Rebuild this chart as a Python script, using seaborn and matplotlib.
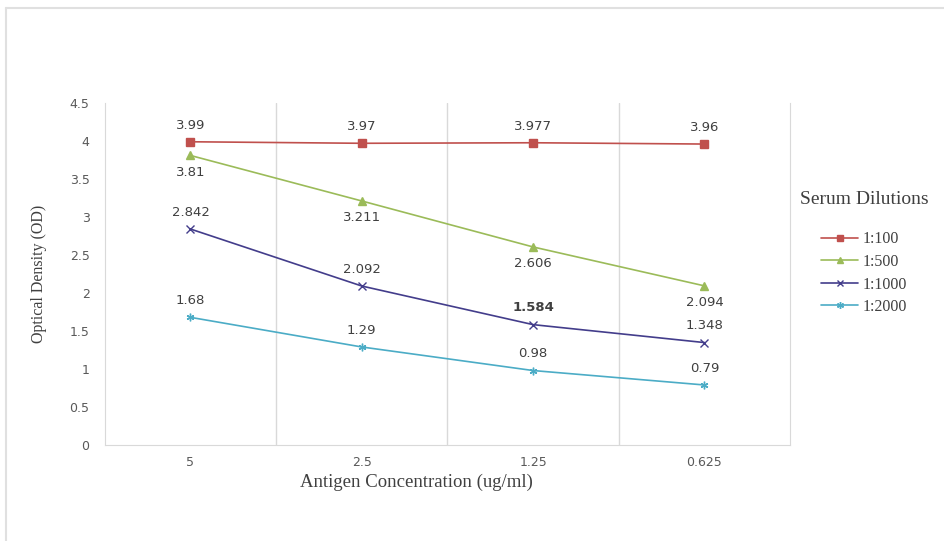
import matplotlib
matplotlib.use("Agg")
import matplotlib.pyplot as plt
import seaborn as sns
import pandas as pd
from matplotlib.lines import Line2D

concentrations = ["5", "2.5", "1.25", "0.625"]
dilutions = ["1:100", "1:500", "1:1000", "1:2000"]
od_1_100 = [3.99, 3.97, 3.977, 3.96]
od_1_500 = [3.81, 3.211, 2.606, 2.094]
od_1_1000 = [2.842, 2.092, 1.584, 1.348]
od_1_2000 = [1.68, 1.29, 0.98, 0.79]
label_text = {
    "1:100": ["3.99", "3.97", "3.977", "3.96"],
    "1:500": ["3.81", "3.211", "2.606", "2.094"],
    "1:1000": ["2.842", "2.092", "1.584", "1.348"],
    "1:2000": ["1.68", "1.29", "0.98", "0.79"],
}

series = {"1:100": od_1_100, "1:500": od_1_500, "1:1000": od_1_1000, "1:2000": od_1_2000}
rows = []
for d in dilutions:
    for c, v in zip(concentrations, series[d]):
        rows.append({"Concentration": c, "OD": v, "Dilution": d})
df = pd.DataFrame(rows)

colors = {"1:100": "#C0504D", "1:500": "#9BBB59", "1:1000": "#433D8B", "1:2000": "#4BACC6"}
markers = {"1:100": "s", "1:500": "^", "1:1000": "x", "1:2000": (6, 2, 0)}
offsets = {
    "1:100": [12, 12, 12, 12],
    "1:500": [-12, -12, -12, -12],
    "1:1000": [12, 12, 12, 12],
    "1:2000": [12, 12, 12, 12],
}

sns.set_style("white")
fig = plt.figure(figsize=(9.44, 5.41), dpi=100)
ax = fig.add_axes([0.111, 0.1774, 0.726, 0.6322])

for d in dilutions:
    sub = df[df["Dilution"] == d]
    sns.lineplot(data=sub, x="Concentration", y="OD", color=colors[d], marker=markers[d],
                 markersize=5.5, markeredgecolor=colors[d], markeredgewidth=1.0,
                 linewidth=1.2, ax=ax, legend=False, sort=False)

for d in dilutions:
    for i, (v, t) in enumerate(zip(series[d], label_text[d])):
        ax.annotate(t, (i, v), xytext=(0, offsets[d][i]), textcoords="offset points",
                    ha="center", va="center", fontsize=9.5, color="#404040",
                    fontweight="bold" if t == "1.584" else "normal")

ax.set_xlim(-0.5, 3.5)
ax.set_ylim(0, 4.5)
ax.set_yticks([0, 0.5, 1, 1.5, 2, 2.5, 3, 3.5, 4, 4.5])
ax.set_yticklabels(["0", "0.5", "1", "1.5", "2", "2.5", "3", "3.5", "4", "4.5"])
ax.set_xticks(range(len(concentrations)))
ax.set_xticklabels(concentrations)
for x in [0.5, 1.5, 2.5]:
    ax.axvline(x, color="#D9D9D9", linewidth=1, zorder=0)
for s in ["left", "right", "bottom", "top"]:
    ax.spines[s].set_color("#D9D9D9")
ax.spines["top"].set_visible(False)
ax.tick_params(axis="both", length=0, labelsize=9, labelcolor="#595959")
ax.tick_params(axis="y", pad=11)
ax.tick_params(axis="x", pad=8)

ax.set_xlabel("Antigen Concentration (ug/ml)", family="Liberation Serif", fontsize=13.5,
              color="#404040")
ax.xaxis.set_label_coords(0.455, -0.084)
ax.set_ylabel("Optical Density (OD)", family="Liberation Serif", fontsize=11.5,
              color="#404040")
ax.yaxis.set_label_coords(-0.084, 0.5)

handles = [Line2D([], [], color=colors[d], marker=markers[d], markersize=5,
                  markeredgecolor=colors[d], linewidth=1.2) for d in dilutions]
leg = ax.legend(handles, dilutions, title="Serum Dilutions", loc="upper left",
                bbox_to_anchor=(1.005, 0.762), frameon=False,
                prop={"family": "Liberation Serif", "size": 11.5}, handlelength=2.3,
                handletextpad=0.3, labelspacing=0.41, borderaxespad=0)
leg.get_title().set_fontfamily("Liberation Serif")
leg.get_title().set_fontsize(14)
leg.get_title().set_color("#404040")
leg._legend_box.sep = 17
for t in leg.get_texts():
    t.set_color("#404040")

# outer chart frame
fig.add_artist(Line2D([6 / 944, 1], [1 - 8 / 541, 1 - 8 / 541], color="#E0E0E0", linewidth=1.5,
                      transform=fig.transFigure))
fig.add_artist(Line2D([6 / 944, 6 / 944], [0, 1 - 8 / 541], color="#E0E0E0", linewidth=1.5,
                      transform=fig.transFigure))

fig.savefig("out.png", dpi=100)
